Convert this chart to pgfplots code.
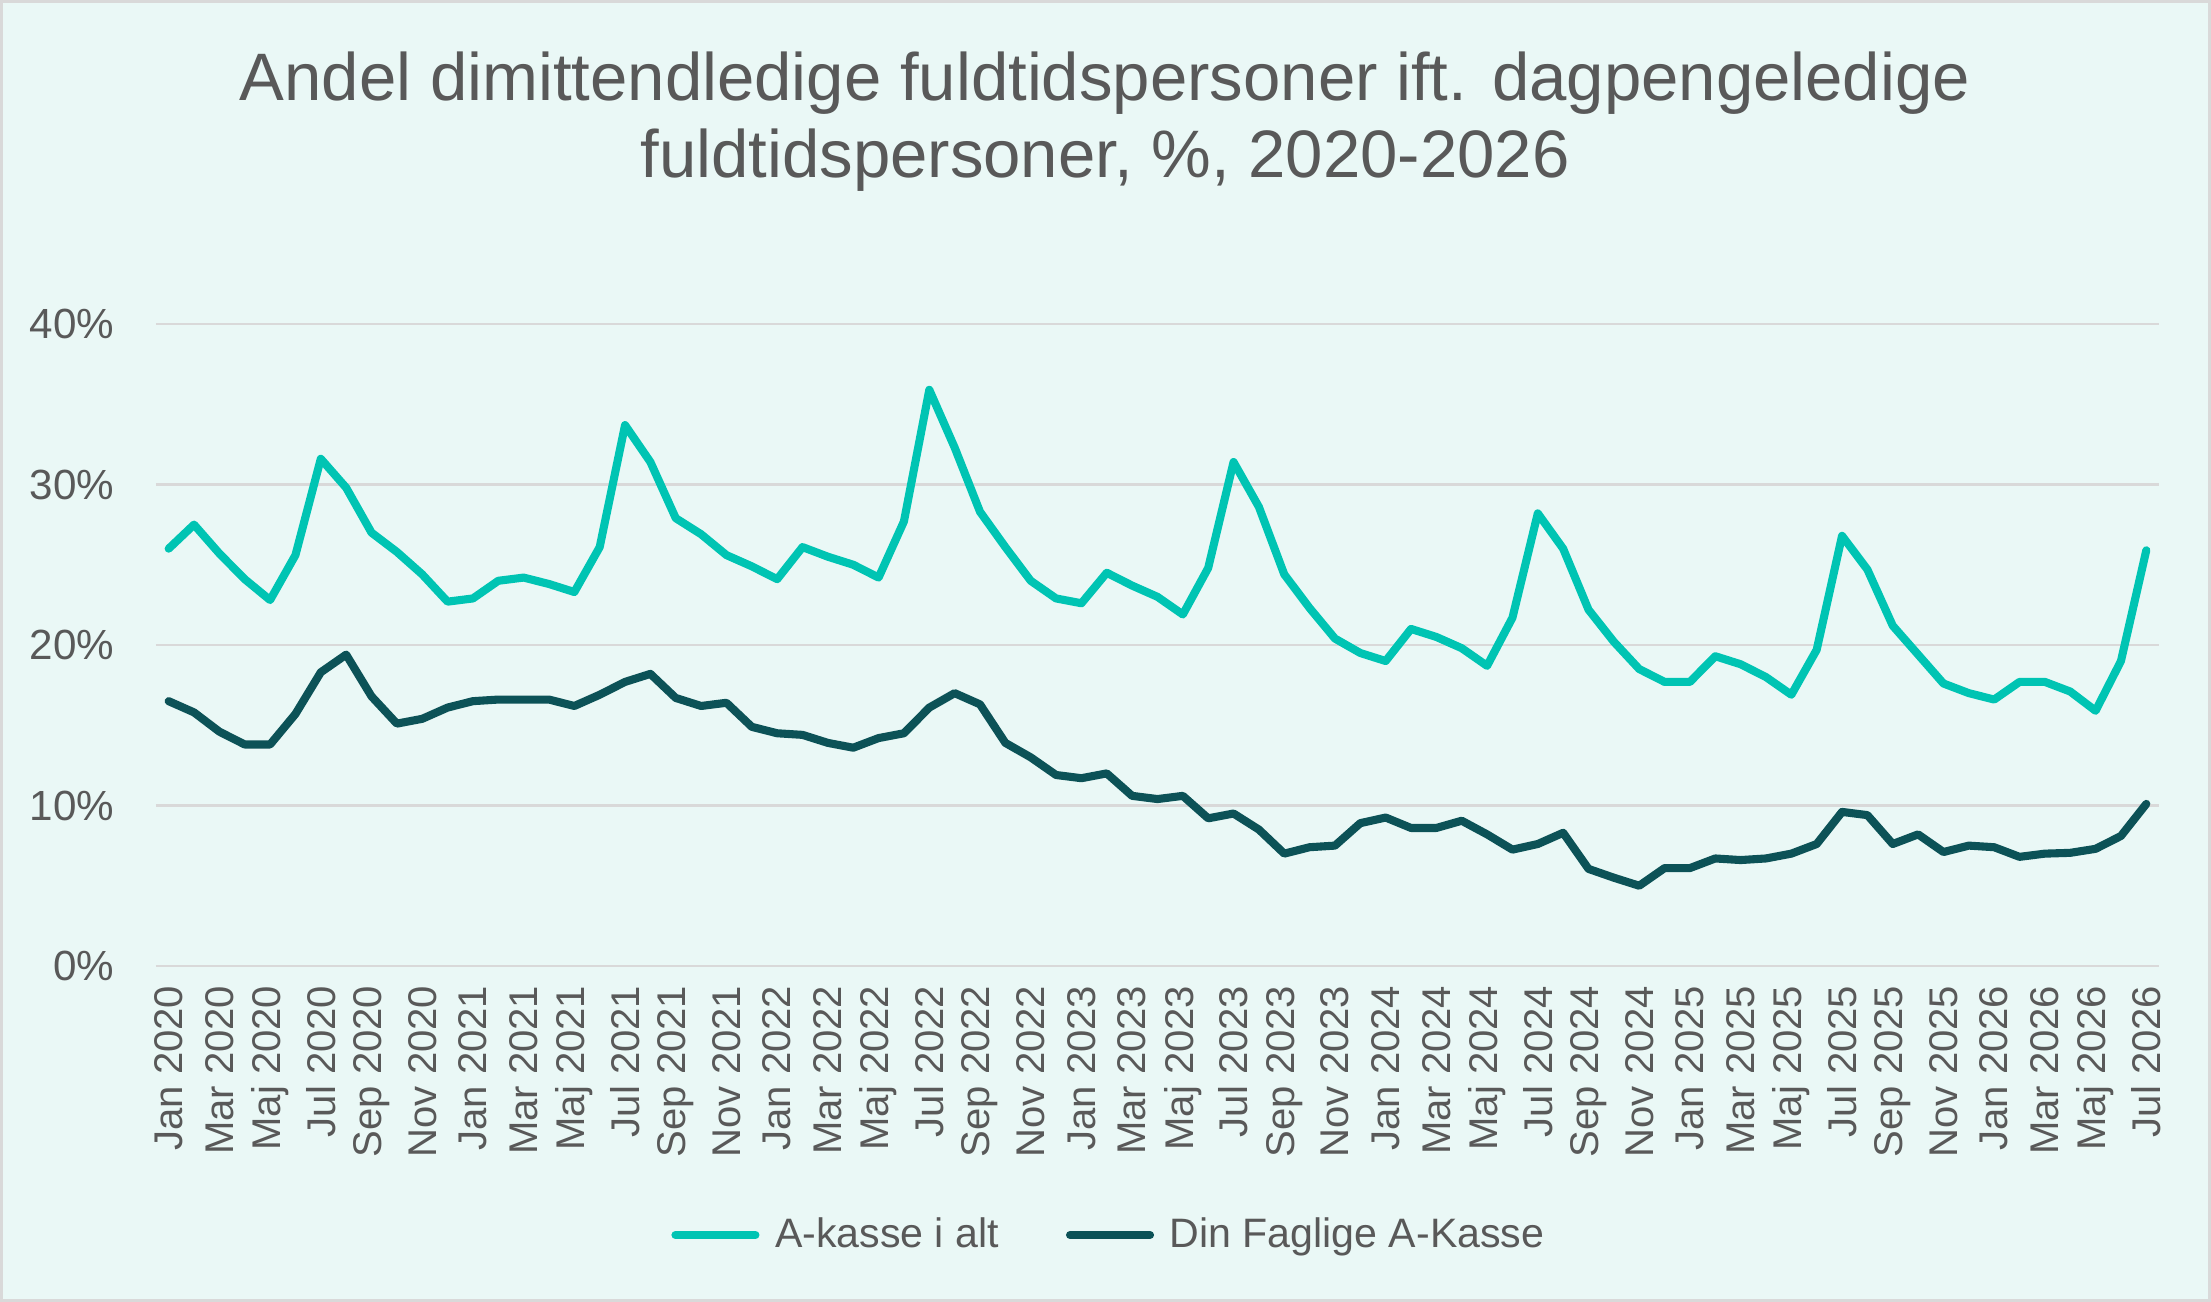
\documentclass[border=0pt]{standalone}
\usepackage{pgfplots}
\pgfplotsset{compat=1.18}
\usepackage{pgfplotstable}
\usepackage{fontspec}
\setmainfont{Liberation Sans}
\definecolor{bg}{HTML}{EAF8F6}
\definecolor{framec}{HTML}{D9D9D9}
\definecolor{gridc}{HTML}{D9D9D9}
\definecolor{txt}{HTML}{595959}
\definecolor{tealc}{HTML}{00C4B3}
\definecolor{darkc}{HTML}{0C5257}
\pgfplotstableread{
x a b
0 26.0 16.5
1 27.5 15.8
2 25.7 14.6
3 24.1 13.8
4 22.8 13.8
5 25.6 15.7
6 31.6 18.3
7 29.8 19.4
8 27.0 16.8
9 25.8 15.1
10 24.4 15.4
11 22.7 16.1
12 22.9 16.5
13 24.0 16.6
14 24.2 16.6
15 23.8 16.6
16 23.3 16.2
17 26.1 16.9
18 33.7 17.7
19 31.4 18.2
20 27.9 16.7
21 26.9 16.2
22 25.6 16.4
23 24.9 14.9
24 24.1 14.5
25 26.1 14.4
26 25.5 13.9
27 25.0 13.6
28 24.2 14.2
29 27.7 14.5
30 35.9 16.1
31 32.3 17.0
32 28.3 16.3
33 26.1 13.9
34 24.0 13.0
35 22.9 11.9
36 22.6 11.7
37 24.5 12.0
38 23.7 10.6
39 23.0 10.4
40 21.9 10.6
41 24.8 9.2
42 31.4 9.5
43 28.6 8.5
44 24.4 7.0
45 22.3 7.4
46 20.4 7.5
47 19.5 8.9
48 19.0 9.25
49 21.0 8.6
50 20.5 8.6
51 19.8 9.05
52 18.7 8.2
53 21.7 7.25
54 28.2 7.6
55 26.0 8.3
56 22.2 6.05
57 20.2 5.5
58 18.5 5.0
59 17.7 6.1
60 17.7 6.1
61 19.3 6.7
62 18.8 6.6
63 18.0 6.7
64 16.9 7.0
65 19.7 7.6
66 26.8 9.6
67 24.7 9.4
68 21.2 7.6
69 19.4 8.2
70 17.6 7.1
71 17.0 7.5
72 16.6 7.4
73 17.7 6.8
74 17.7 7.0
75 17.1 7.05
76 15.9 7.3
77 19.0 8.1
78 25.9 10.1
}\datatable
\begin{document}
\begin{tikzpicture}
\useasboundingbox (0,0) rectangle (221.1mm,130.2mm);
\fill[bg] (0,0) rectangle (221.1mm,130.2mm);
\draw[framec, line width=0.3mm] (0.15mm,0.15mm) rectangle (220.95mm,130.05mm);
\begin{axis}[
  at={(15.6mm,33.6mm)}, anchor=south west,
  scale only axis,
  width=200.3mm, height=64.2mm,
  xmin=-0.5, xmax=78.5,
  ymin=0, ymax=40,
  axis line style={draw=none},
  major tick length=0pt,
  ytick={0,10,20,30,40},
  yticklabels={0\%,10\%,20\%,30\%,40\%},
  yticklabel style={anchor=east, inner sep=0pt, xshift=-4.1mm, font=\fontsize{12}{14}\selectfont, text=txt},
  xtick={0,2,...,78},
  xticklabels={Jan 2020,Mar 2020,Maj 2020,Jul 2020,Sep 2020,Nov 2020,
    Jan 2021,Mar 2021,Maj 2021,Jul 2021,Sep 2021,Nov 2021,
    Jan 2022,Mar 2022,Maj 2022,Jul 2022,Sep 2022,Nov 2022,
    Jan 2023,Mar 2023,Maj 2023,Jul 2023,Sep 2023,Nov 2023,
    Jan 2024,Mar 2024,Maj 2024,Jul 2024,Sep 2024,Nov 2024,
    Jan 2025,Mar 2025,Maj 2025,Jul 2025,Sep 2025,Nov 2025,
    Jan 2026,Mar 2026,Maj 2026,Jul 2026},
  xticklabel style={yshift=-1.9mm, rotate=90, anchor=east, inner sep=0pt, font=\fontsize{11.4}{13}\selectfont, text=txt},
  ymajorgrids,
  grid style={draw=gridc, line width=0.25mm},
  title={Andel dimittendledige fuldtidspersoner ift. dagpengeledige\\fuldtidspersoner, \%, 2020-2026},
  title style={at={(axis description cs:0.4738,1.282)}, anchor=center, align=center, font=\fontsize{19.1}{22}\selectfont, text=txt, inner sep=0pt},
  legend columns=2,
  legend style={at={(axis description cs:0.477,-0.419)}, anchor=center, draw=none, fill=none,
    font=\fontsize{11.7}{13}\selectfont, text=txt,
    /tikz/every even column/.append style={column sep=6mm}},
  legend image code/.code={\draw[#1, line width=2.3pt, line cap=round] (0mm,0mm) -- (8mm,0mm); \path (8.85mm,0mm);},
]
\addplot[tealc, line width=2.3pt, line join=round, line cap=round] table[x=x, y=a] {\datatable};
\addlegendentry{A-kasse i alt}
\addplot[darkc, line width=2.3pt, line join=round, line cap=round] table[x=x, y=b] {\datatable};
\addlegendentry{Din Faglige A-Kasse}
\end{axis}
\end{tikzpicture}
\end{document}
